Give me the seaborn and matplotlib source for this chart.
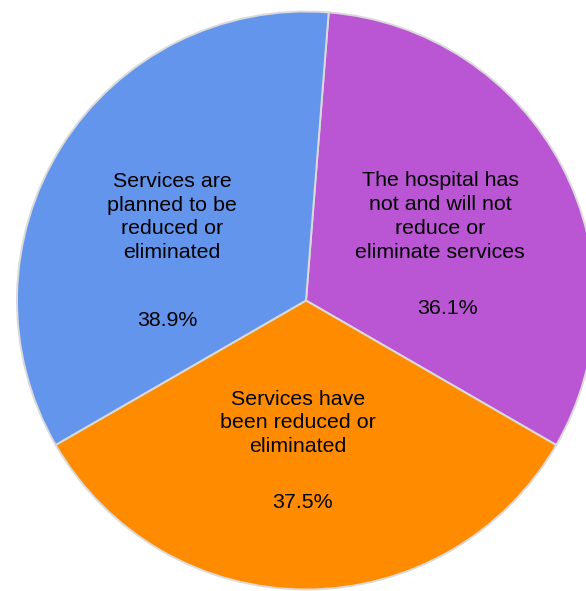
import matplotlib
matplotlib.use("Agg")
import matplotlib.pyplot as plt
import seaborn as sns

# Responses about service reductions (percent of hospitals)
categories = [
    "The hospital has\nnot and will not\nreduce or\neliminate services",
    "Services have\nbeen reduced or\neliminated",
    "Services are\nplanned to be\nreduced or\neliminated",
]
values = [36.1, 37.5, 38.9]
pct_labels = ["36.1%", "37.5%", "38.9%"]
colors = ["#BA55D3", "#FF8C00", "#6495ED"]

sns.set_theme(style="white")
plt.rcParams["font.family"] = ["Liberation Sans", "DejaVu Sans"]

W, H, DPI = 586, 591, 100
fig = plt.figure(figsize=(W / DPI, H / DPI), dpi=DPI)
fig.patch.set_facecolor("white")

# Pie centre and radius in pixels (from top-left)
cx, cy, r = 306, 300.5, 289
ax = fig.add_axes([(cx - r) / W, (H - cy - r) / H, 2 * r / W, 2 * r / H])

wedges, _ = ax.pie(
    values,
    colors=colors,
    startangle=85.5,
    counterclock=False,
    radius=1,
    wedgeprops=dict(edgecolor="#dadada", linewidth=1.4),
)
for w in wedges:
    w.set_clip_on(False)

ax.set_xlim(-1, 1)
ax.set_ylim(-1, 1)
ax.set_aspect("equal")
ax.axis("off")


def px(x, y):
    return (x - cx) / r, (cy - y) / r


label_pos = [(440, 216.5), (298, 423), (172, 217)]
pct_pos = [(447, 308), (302, 503), (167, 320)]

for text, (x, y) in zip(categories, label_pos):
    ax.text(*px(x, y), text, ha="center", va="center", fontsize=15.4,
            color="black", linespacing=1.33)
for text, (x, y) in zip(pct_labels, pct_pos):
    ax.text(*px(x, y), text, ha="center", va="center", fontsize=15.4,
            color="black")

fig.savefig("out.png", dpi=DPI, facecolor="white")
